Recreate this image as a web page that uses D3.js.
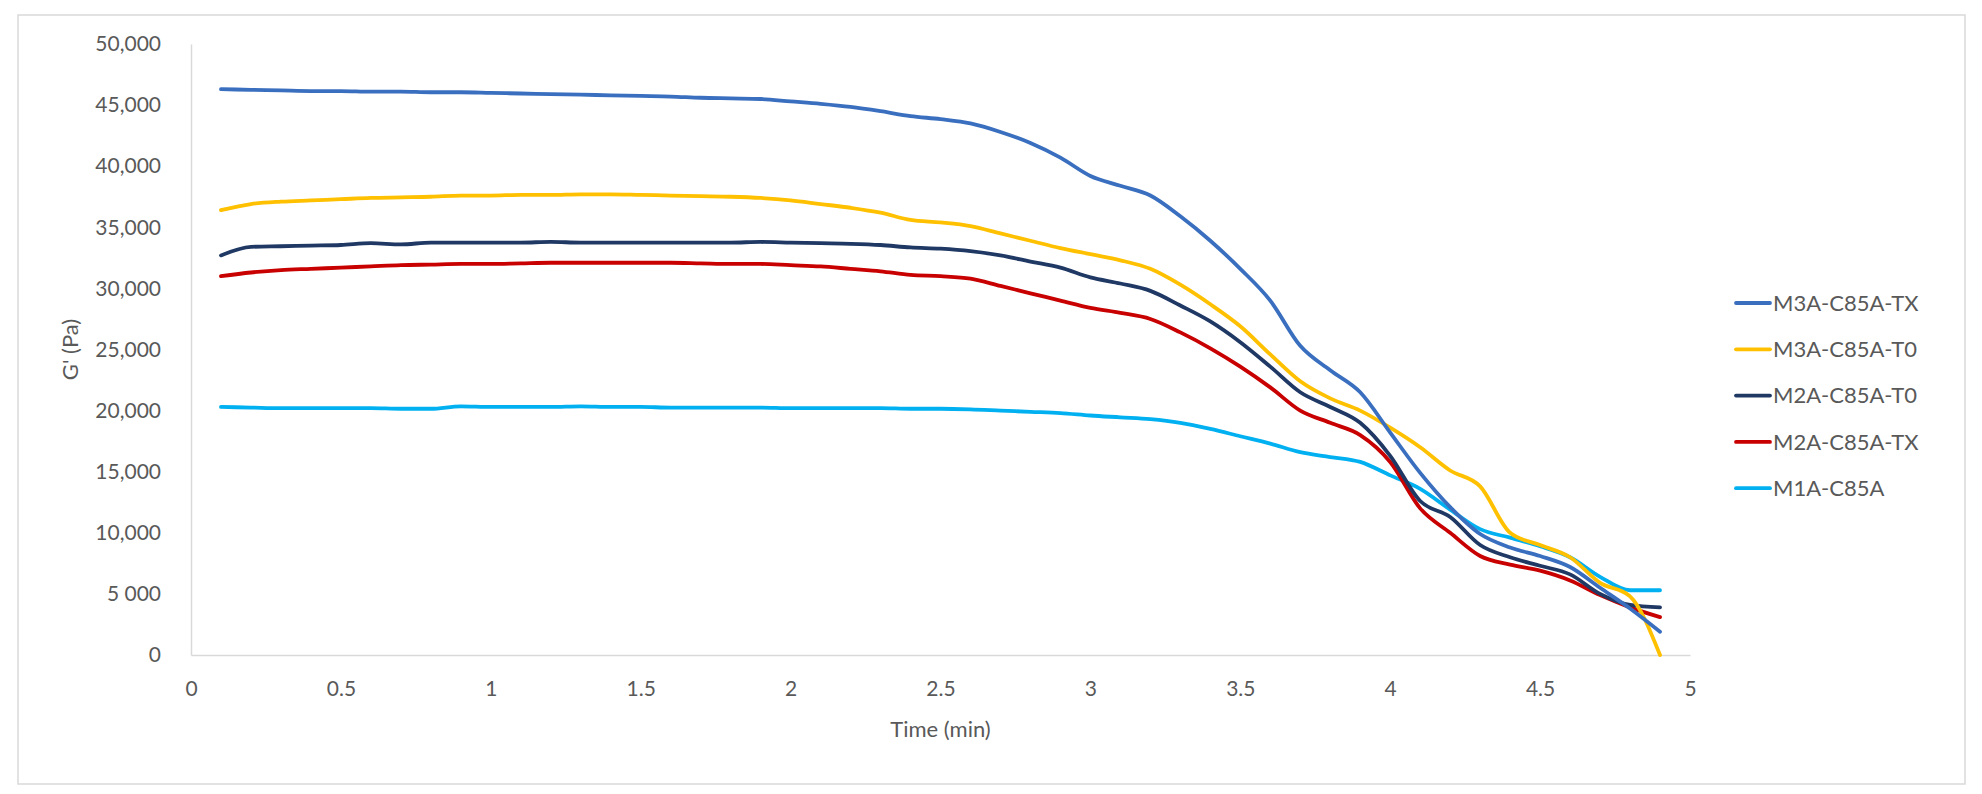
<!DOCTYPE html>
<html lang="en">
<head>
    <meta charset="UTF-8">
    <title>G' vs Time</title>
    <script src="https://d3js.org/d3.v7.min.js"></script>
    <style>
        * { margin: 0; padding: 0; box-sizing: border-box; }
        body { background: #fff; font-family: Lato, "Open Sans", sans-serif; }
        text { fill: #595959; }
    </style>
</head>
<body>
    <div id="chart"></div>

    <script>
        // time in minutes (shared by all series)
        const time = [0.1, 0.2, 0.3, 0.4, 0.5, 0.6, 0.7, 0.8, 0.9, 1.0,
            1.1, 1.2, 1.3, 1.4, 1.5, 1.6, 1.7, 1.8, 1.9, 2.0,
            2.1, 2.2, 2.3, 2.4, 2.5, 2.6, 2.7, 2.8, 2.9, 3.0,
            3.1, 3.2, 3.3, 3.4, 3.5, 3.6, 3.7, 3.8, 3.9, 4.0,
            4.1, 4.2, 4.3, 4.4, 4.5, 4.6, 4.7, 4.8, 4.9];

        const seriesNames = ["M3A-C85A-TX", "M3A-C85A-T0", "M2A-C85A-T0", "M2A-C85A-TX", "M1A-C85A"];
        const seriesColors = ["#3a6fbf", "#ffc000", "#1f3864", "#c80000", "#00b0f0"];

        // G' values in Pa
        const m3aTX = [46300, 46250, 46200, 46150, 46150, 46100, 46100, 46050, 46050, 46000,
            45950, 45900, 45850, 45800, 45750, 45700, 45600, 45550, 45500, 45300,
            45100, 44850, 44500, 44100, 43850, 43500, 42800, 41900, 40700, 39200,
            38400, 37600, 35900, 33900, 31600, 29000, 25300, 23300, 21500, 18200,
            14900, 12100, 9900, 8800, 8100, 7200, 5500, 3800, 1900];
        const m3aT0 = [36400, 36900, 37100, 37200, 37300, 37400, 37450, 37500, 37600, 37600,
            37650, 37650, 37700, 37700, 37650, 37600, 37550, 37500, 37400, 37200,
            36900, 36600, 36200, 35600, 35400, 35100, 34500, 33900, 33300, 32800,
            32300, 31600, 30300, 28700, 26900, 24600, 22400, 21000, 20000, 18600,
            17000, 15100, 13800, 10000, 9000, 8000, 5900, 4800, 0];
        const m2aT0 = [32700, 33400, 33450, 33500, 33550, 33700, 33600, 33750, 33750, 33750,
            33750, 33800, 33750, 33750, 33750, 33750, 33750, 33750, 33800, 33750,
            33700, 33650, 33550, 33350, 33250, 33050, 32700, 32200, 31700, 30900,
            30400, 29800, 28600, 27300, 25600, 23600, 21500, 20300, 19000, 16300,
            12600, 11300, 9000, 8000, 7300, 6600, 5000, 4100, 3900];
        const m2aTX = [31000, 31300, 31500, 31600, 31700, 31800, 31900, 31950, 32000, 32000,
            32050, 32100, 32100, 32100, 32100, 32100, 32050, 32000, 32000, 31900,
            31800, 31600, 31400, 31100, 31000, 30800, 30200, 29600, 29000, 28400,
            28000, 27500, 26400, 25100, 23600, 21900, 20000, 19000, 18000, 15800,
            12000, 10000, 8100, 7400, 6900, 6100, 4900, 3900, 3100];
        const m1a = [20300, 20250, 20200, 20200, 20200, 20200, 20150, 20150, 20350, 20300,
            20300, 20300, 20350, 20300, 20300, 20250, 20250, 20250, 20250, 20200,
            20200, 20200, 20200, 20150, 20150, 20100, 20000, 19900, 19800, 19600,
            19450, 19300, 19000, 18500, 17900, 17300, 16600, 16200, 15800, 14700,
            13600, 11900, 10300, 9600, 8900, 8000, 6400, 5300, 5300];

        const xTicks = [0, 0.5, 1, 1.5, 2, 2.5, 3, 3.5, 4, 4.5, 5];
        const yTicks = [0, 5000, 10000, 15000, 20000, 25000, 30000, 35000, 40000, 45000, 50000];
        const yTickLabels = ["0", "5 000", "10,000", "15,000", "20,000", "25,000", "30,000", "35,000", "40,000", "45,000", "50,000"];

        const width = 1982, height = 794;
        const plot = { left: 191, right: 1690, top: 44, bottom: 655 };

        const svg = d3.select("#chart").append("svg")
            .attr("width", width)
            .attr("height", height);

        // outer frame
        svg.append("rect")
            .attr("x", 18).attr("y", 15)
            .attr("width", 1947).attr("height", 769)
            .attr("fill", "#fff")
            .attr("stroke", "#d9d9d9")
            .attr("stroke-width", 1.5);

        const x = d3.scaleLinear().domain([0, 5]).range([plot.left, plot.right]);
        const y = d3.scaleLinear().domain([0, 50000]).range([plot.bottom, plot.top]);

        // axes
        const xAxis = svg.append("g")
            .attr("transform", `translate(0,${plot.bottom})`)
            .call(d3.axisBottom(x).tickValues(xTicks).tickSize(0).tickPadding(26).tickFormat(d3.format("")));
        xAxis.select(".domain").attr("stroke", "#d9d9d9").attr("stroke-width", 1.5);
        xAxis.selectAll("text").attr("font-size", "21px").attr("font-family", "Lato").attr("fill", "#595959");

        const yAxis = svg.append("g")
            .attr("transform", `translate(${plot.left},0)`)
            .call(d3.axisLeft(y).tickValues(yTicks).tickSize(0).tickPadding(30)
                .tickFormat((d, i) => yTickLabels[i]));
        yAxis.select(".domain").attr("stroke", "#d9d9d9").attr("stroke-width", 1.5);
        yAxis.selectAll("text").attr("font-size", "21px").attr("font-family", "Lato").attr("fill", "#595959");

        // axis titles
        svg.append("text")
            .attr("x", (plot.left + plot.right) / 2)
            .attr("y", 737)
            .attr("text-anchor", "middle")
            .attr("font-size", "22px")
            .text("Time (min)");

        svg.append("text")
            .attr("transform", `translate(78,${(plot.top + plot.bottom) / 2}) rotate(-90)`)
            .attr("text-anchor", "middle")
            .attr("font-size", "22px")
            .text("G' (Pa)");

        // lines
        const allSeries = [m3aTX, m3aT0, m2aT0, m2aTX, m1a];
        const line = d3.line()
            .x((d, i) => x(time[i]))
            .y(d => y(d))
            .curve(d3.curveMonotoneX);

        // last legend entry drawn first, first one ends on top
        const drawOrder = [4, 3, 2, 1, 0];
        drawOrder.forEach(k => {
            svg.append("path")
                .datum(allSeries[k])
                .attr("d", line)
                .attr("fill", "none")
                .attr("stroke", seriesColors[k])
                .attr("stroke-width", 3.8)
                .attr("stroke-linejoin", "round")
                .attr("stroke-linecap", "round");
        });

        // legend
        const legend = svg.append("g").attr("transform", "translate(1736,303)");
        seriesNames.forEach((name, i) => {
            const row = legend.append("g").attr("transform", `translate(0,${i * 46.3})`);
            row.append("line")
                .attr("x1", 0).attr("x2", 34)
                .attr("y1", 0).attr("y2", 0)
                .attr("stroke", seriesColors[i])
                .attr("stroke-width", 3.8)
                .attr("stroke-linecap", "round");
            row.append("text")
                .attr("x", 37)
                .attr("y", 0)
                .attr("dy", "0.35em")
                .attr("font-size", "22px")
                .text(name);
        });
    </script>
</body>
</html>
